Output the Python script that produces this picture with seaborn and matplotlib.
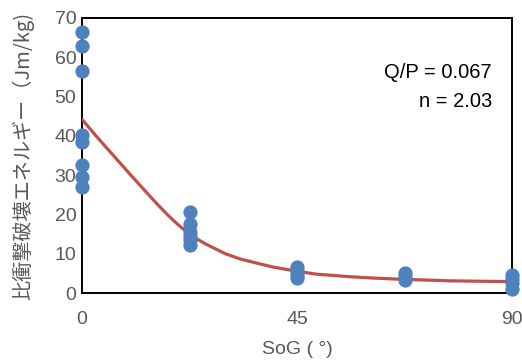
import matplotlib
matplotlib.use("Agg")
import matplotlib.pyplot as plt
import seaborn as sns
import pandas as pd

# measured points
sog_pts = [0, 0, 0, 0, 0, 0, 0, 0,
           22.5, 22.5, 22.5, 22.5, 22.5, 22.5,
           45, 45, 45, 45,
           67.5, 67.5, 67.5,
           90, 90, 90, 90]
energy_pts = [66.5, 63.0, 56.6, 40.3, 38.5, 32.7, 29.6, 26.9,
              20.6, 17.6, 15.6, 14.4, 13.4, 12.3,
              6.5, 5.5, 4.5, 3.8,
              5.2, 4.2, 3.2,
              4.5, 3.5, 2.5, 1.0]

# fitted curve
curve_x = [0, 3, 6.5, 10, 13.5, 16, 18, 20, 22, 24, 26, 28, 30, 33, 36.6, 40, 43.5,
           49, 56, 61, 66.6, 72, 77, 83, 90]
curve_y = [44.2, 39.9, 35.1, 30.3, 25.6, 22.3, 19.8, 17.5, 15.5, 13.8, 12.4, 11.2, 10.0,
           8.7, 7.6, 6.6, 5.85, 4.8, 4.15, 3.8, 3.5, 3.3, 3.1, 3.0, 2.9]

x_ticks = [0, 45, 90]
y_ticks = [0, 10, 20, 30, 40, 50, 60, 70]

sns.set_style("white")
plt.rcParams['font.family'] = ['Liberation Sans', 'Noto Sans CJK JP', 'DejaVu Sans']

fig = plt.figure(figsize=(5.22, 3.63), dpi=100)
ax = fig.add_axes([82/522, 1-293/363, 430/522, 275/363])

df_c = pd.DataFrame({"x": curve_x, "y": curve_y})
df_p = pd.DataFrame({"x": sog_pts, "y": energy_pts})

sns.lineplot(data=df_c, x="x", y="y", ax=ax, color="#C0504D", linewidth=2.3, zorder=3)
sns.scatterplot(data=df_p, x="x", y="y", ax=ax, color="#4F81BD", s=105,
                edgecolor="#4F81BD", linewidth=0, zorder=5, clip_on=False)

ax.set_xlim(0, 90)
ax.set_ylim(0, 70)
ax.set_xticks(x_ticks)
ax.set_yticks(y_ticks)
ax.set_xticklabels([str(v) for v in x_ticks])
ax.set_yticklabels([str(v) for v in y_ticks])

for s in ax.spines.values():
    s.set_visible(True)
    s.set_color("black")
    s.set_linewidth(1.4)

ax.tick_params(axis="both", direction="in", length=5, width=1.2, color="black",
               labelsize=14, labelcolor="#595959")
ax.tick_params(axis="x", pad=13)
ax.tick_params(axis="y", pad=4)

ax.set_xlabel("SoG ( °)", fontsize=14, color="#595959", labelpad=9)
ax.set_ylabel("比衝撃破壊エネルギー（Jm/kg)", fontsize=14.5, color="#595959",
              family=['Noto Sans CJK JP', 'Liberation Sans'], labelpad=15)

ax.text(0.953, 0.80, "Q/P = 0.067", transform=ax.transAxes, ha="right", va="center",
        fontsize=14.5, color="black")
ax.text(0.953, 0.695, "n = 2.03", transform=ax.transAxes, ha="right", va="center",
        fontsize=14.5, color="black")

fig.savefig("out.png", dpi=100)
